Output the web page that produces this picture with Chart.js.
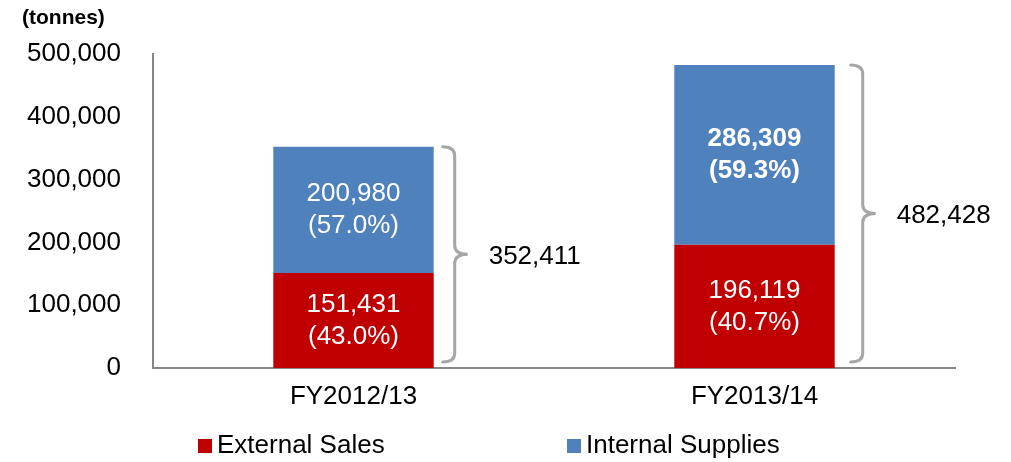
<!DOCTYPE html>
<html>
<head>
<meta charset="utf-8">
<script src="https://cdn.jsdelivr.net/npm/chart.js@4/dist/chart.umd.min.js"></script>
<style>
  html, body { margin: 0; padding: 0; background: #fff; }
  #wrap { width: 1011px; height: 462px; position: relative; }
</style>
</head>
<body>
<div id="wrap"><canvas id="chart"></canvas></div>
<script>
// --- data ---
const categories = ['FY2012/13', 'FY2013/14'];
const externalSales = [151431, 196119];
const internalSupplies = [200980, 286309];
const yTicks = [0, 100000, 200000, 300000, 400000, 500000];
const seriesNames = ['External Sales', 'Internal Supplies'];

// --- styles ---
const RED = '#C00000';
const BLUE = '#4F81BD';
const AXIS = '#868686';
const BRACE = '#A6A6A6';
const FONT = '"Liberation Sans", Arial, sans-serif';
const boldLabels = [[false, false], [false, true]]; // [category][dataset]
const braceOffset = [9, 16];

const fmt = (v) => v.toLocaleString('en-US');

// curly brace right of each stacked bar, with total
function drawBrace(ctx, x, top, bottom) {
    const mid = (top + bottom) / 2;
    const xv = x + 12, xt = x + 25, r = 9;
    ctx.beginPath();
    ctx.moveTo(x, top);
    ctx.quadraticCurveTo(xv, top, xv, top + r);
    ctx.lineTo(xv, mid - r);
    ctx.quadraticCurveTo(xv, mid, xt, mid);
    ctx.quadraticCurveTo(xv, mid, xv, mid + r);
    ctx.lineTo(xv, bottom - r);
    ctx.quadraticCurveTo(xv, bottom, x, bottom);
    ctx.stroke();
}

const overlay = {
    id: 'overlay',
    afterDatasetsDraw(chart) {
        const ctx = chart.ctx;
        const yScale = chart.scales.y;
        ctx.save();
        ctx.textAlign = 'center';
        ctx.textBaseline = 'middle';
        ctx.fillStyle = '#fff';

        // values inside bars
        categories.forEach((c, i) => {
            const total = externalSales[i] + internalSupplies[i];
            chart.data.datasets.forEach((ds, d) => {
                const bar = chart.getDatasetMeta(d).data[i];
                const v = ds.data[i];
                const cy = (bar.y + bar.base) / 2;
                ctx.font = (boldLabels[i][d] ? 'bold ' : '') + '26px ' + FONT;
                ctx.fillText(fmt(v), bar.x, cy - 16);
                ctx.fillText('(' + (v / total * 100).toFixed(1) + '%)', bar.x, cy + 16);
            });

            // brace + total
            const top = chart.getDatasetMeta(1).data[i];
            const right = top.x + top.width / 2 + braceOffset[i];
            const yTop = yScale.getPixelForValue(total);
            const yBot = yScale.getPixelForValue(0) - 6;
            ctx.strokeStyle = BRACE;
            ctx.lineWidth = 3;
            ctx.lineCap = 'round';
            drawBrace(ctx, right, yTop, yBot);
            ctx.fillStyle = '#000';
            ctx.font = '26px ' + FONT;
            ctx.textAlign = 'left';
            ctx.fillText(fmt(total), right + 46, (yTop + yBot) / 2 + 2);
            ctx.textAlign = 'center';
            ctx.fillStyle = '#fff';
        });

        // unit label
        ctx.fillStyle = '#000';
        ctx.textAlign = 'left';
        ctx.font = 'bold 21px ' + FONT;
        ctx.fillText('(tonnes)', 22, 18);

        // legend
        const legendX = [198, 567];
        ctx.font = '26px ' + FONT;
        chart.data.datasets.forEach((ds, d) => {
            ctx.fillStyle = ds.backgroundColor;
            ctx.fillRect(legendX[d], 439, 14, 14);
            ctx.fillStyle = '#000';
            ctx.fillText(ds.label, legendX[d] + 19, 446);
        });
        ctx.restore();
    }
};

new Chart(document.getElementById('chart'), {
    type: 'bar',
    data: {
        labels: categories,
        datasets: [
            { label: seriesNames[0], data: externalSales, backgroundColor: RED },
            { label: seriesNames[1], data: internalSupplies, backgroundColor: BLUE }
        ]
    },
    options: {
        responsive: true, maintainAspectRatio: false, animation: false,
        barPercentage: 0.4, categoryPercentage: 1.0,
        layout: { padding: { top: 54, right: 56, left: 0, bottom: 0 } },
        plugins: { legend: { display: false }, tooltip: { enabled: false } },
        scales: {
            x: {
                stacked: true,
                grid: { display: false, drawTicks: false },
                border: { color: AXIS, width: 2 },
                ticks: { color: '#000', font: { family: FONT, size: 26 }, padding: 13 },
                afterFit: (s) => { s.height = 94; }
            },
            y: {
                stacked: true,
                min: yTicks[0], max: yTicks[yTicks.length - 1],
                afterBuildTicks: (s) => { s.ticks = yTicks.map(v => ({ value: v })); },
                grid: { display: false, drawTicks: false },
                border: { color: AXIS, width: 2 },
                ticks: { color: '#000', font: { family: FONT, size: 26 }, padding: 32, callback: (v) => fmt(v) },
                afterFit: (s) => { s.width = 153; }
            }
        }
    },
    plugins: [overlay]
});
</script>
</body>
</html>
